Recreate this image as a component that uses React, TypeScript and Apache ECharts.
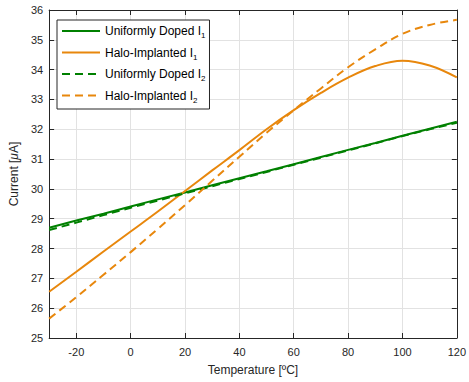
import React, { useEffect, useRef } from "react";
import * as echarts from "echarts";

const temps = [-30, -20, -10, 0, 10, 20, 30, 40, 50, 60, 70, 80, 90, 100, 110, 120];
const uniformI1 = [28.7, 28.94, 29.17, 29.41, 29.65, 29.88, 30.12, 30.36, 30.59, 30.83, 31.07, 31.31, 31.54, 31.78, 32.02, 32.25];
const haloI1 = [26.55, 27.22, 27.9, 28.57, 29.24, 29.93, 30.62, 31.3, 32.0, 32.64, 33.22, 33.73, 34.12, 34.3, 34.14, 33.74];
const uniformI2 = [28.62, 28.87, 29.12, 29.37, 29.61, 29.85, 30.09, 30.33, 30.57, 30.81, 31.05, 31.29, 31.53, 31.77, 32.0, 32.22];
const haloI2 = [25.65, 26.37, 27.12, 27.88, 28.66, 29.46, 30.27, 31.08, 31.88, 32.64, 33.37, 34.08, 34.68, 35.2, 35.5, 35.67];
const xTicks = [-20, 0, 20, 40, 60, 80, 100, 120];

const seriesNames = ["Uniformly Doped I1", "Halo-Implanted I1", "Uniformly Doped I2", "Halo-Implanted I2"];
const legendLabels: Record<string, string> = {
  "Uniformly Doped I1": "{t|Uniformly Doped I}{s|1}",
  "Halo-Implanted I1": "{t|Halo-Implanted I}{s|1}",
  "Uniformly Doped I2": "{t|Uniformly Doped I}{s|2}",
  "Halo-Implanted I2": "{t|Halo-Implanted I}{s|2}",
};

const GREEN = "#008000";
const ORANGE = "#E8870C";
const AXIS = "#262626";
const GRID = "#e2e2e2";
const FONT = "Liberation Sans, Arial, Helvetica, sans-serif";

function pairs(vals: number[]) {
  return temps.map((t, i) => [t, vals[i]]);
}

export default function App() {
  const ref = useRef<HTMLDivElement>(null);
  useEffect(() => {
    if (!ref.current) return;
    const chart = echarts.init(ref.current, undefined, { renderer: "svg" });
    const mk = (name: string, vals: number[], color: string, dashed: boolean, smooth: boolean) => ({
      name,
      type: "line",
      data: pairs(vals),
      showSymbol: false,
      symbol: "none",
      smooth: smooth ? 0.4 : false,
      lineStyle: { color, width: 2, type: dashed ? [8, 5] : "solid" },
      itemStyle: { color },
      xAxisIndex: 0,
      yAxisIndex: 0,
    });
    chart.setOption({
      animation: false,
      backgroundColor: "#ffffff",
      textStyle: { fontFamily: FONT },
      grid: { left: 46, right: 8, top: 10, bottom: 44, containLabel: false },
      legend: {
        orient: "vertical",
        left: 57,
        top: 20,
        padding: [5, 4, 5, 4],
        itemWidth: 38,
        itemHeight: 14,
        itemGap: 7,
        itemTextGap: 3,
        backgroundColor: "#ffffff",
        borderColor: AXIS,
        borderWidth: 1,
        borderRadius: 0,
        itemStyle: { opacity: 0 },
        data: seriesNames,
        formatter: (name: string) => legendLabels[name],
        textStyle: {
          color: "#000000",
          fontFamily: FONT,
          fontSize: 12,
          rich: {
            t: { fontSize: 12, fontFamily: FONT, color: "#000", lineHeight: 15 },
            s: { fontSize: 8, fontFamily: FONT, color: "#000", padding: [9, 0, 0, 0] },
          },
        },
      },
      xAxis: [
        {
          type: "value",
          min: -30,
          max: 120,
          position: "bottom",
          name: "Temperature [ºC]",
          nameLocation: "middle",
          nameGap: 26,
          nameTextStyle: { fontSize: 12, color: AXIS, fontFamily: FONT },
          axisLine: { show: true, onZero: false, lineStyle: { color: AXIS, width: 1 } },
          axisTick: { show: true, inside: true, length: 5, customValues: xTicks, lineStyle: { color: AXIS } },
          axisLabel: { show: true, customValues: xTicks, color: AXIS, fontSize: 11, margin: 8, fontFamily: FONT },
          splitLine: { show: true, lineStyle: { color: GRID, width: 1 } },
        },
        {
          type: "value",
          min: -30,
          max: 120,
          position: "top",
          axisLine: { show: true, onZero: false, lineStyle: { color: AXIS, width: 1 } },
          axisTick: { show: true, inside: true, length: 5, customValues: xTicks, lineStyle: { color: AXIS } },
          axisLabel: { show: false, customValues: xTicks },
          splitLine: { show: false },
        },
      ],
      yAxis: [
        {
          type: "value",
          min: 25,
          max: 36,
          interval: 1,
          position: "left",
          name: "{a|Current [}{m|μ}{a|A]}",
          nameLocation: "middle",
          nameGap: 28,
          nameTextStyle: {
            fontSize: 12,
            color: AXIS,
            fontFamily: FONT,
            rich: {
              a: { fontSize: 12, color: AXIS, fontFamily: FONT },
              m: { fontSize: 12, color: AXIS, fontFamily: FONT, fontStyle: "italic" },
            },
          },
          axisLine: { show: true, onZero: false, lineStyle: { color: AXIS, width: 1 } },
          axisTick: { show: true, inside: true, length: 5, lineStyle: { color: AXIS } },
          axisLabel: { show: true, color: AXIS, fontSize: 11, margin: 6, fontFamily: FONT },
          splitLine: { show: true, lineStyle: { color: GRID, width: 1 } },
        },
        {
          type: "value",
          min: 25,
          max: 36,
          interval: 1,
          position: "right",
          axisLine: { show: true, onZero: false, lineStyle: { color: AXIS, width: 1 } },
          axisTick: { show: true, inside: true, length: 5, lineStyle: { color: AXIS } },
          axisLabel: { show: false },
          splitLine: { show: false },
        },
      ],
      series: [
        mk(seriesNames[0], uniformI1, GREEN, false, false),
        mk(seriesNames[1], haloI1, ORANGE, false, true),
        mk(seriesNames[2], uniformI2, GREEN, true, false),
        mk(seriesNames[3], haloI2, ORANGE, true, true),
      ],
    });
    return () => chart.dispose();
  }, []);
  return (
    <div
      ref={ref}
      style={{ position: "absolute", left: 0, top: 0, width: 469, height: 382, background: "#fff" }}
    />
  );
}
